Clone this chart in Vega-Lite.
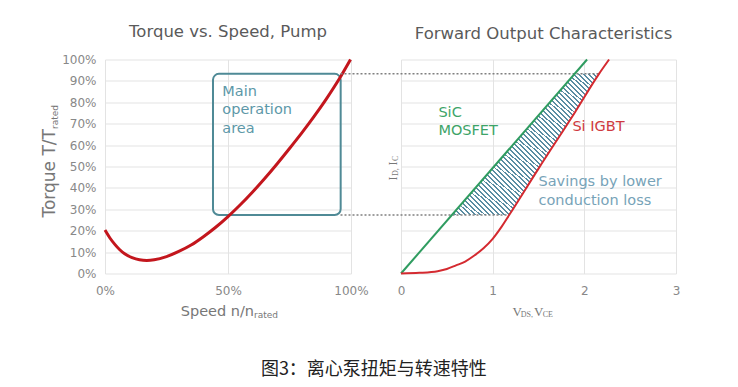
{
  "$schema": "https://vega.github.io/schema/vega-lite/v6.json",
  "background": "white",
  "padding": {"left": 41, "top": 23.5, "right": 5, "bottom": 5},
  "spacing": 50,
  "bounds": "flush",
  "config": {
    "view": {"stroke": null},
    "font": "DejaVu Sans",
    "axis": {"grid": true, "gridColor": "#e3e3e3", "gridWidth": 1, "domain": false, "ticks": false, "labelColor": "#888888", "labelFontSize": 12, "labelFont": "DejaVu Sans", "labelOverlap": false},
    "title": {"fontSize": 16.5, "fontWeight": "normal", "color": "#5a5a5a", "font": "DejaVu Sans", "offset": 13}
  },
  "hconcat": [
    {
      "width": 246,
      "height": 214,
      "title": {"text": "Torque vs. Speed, Pump"},
      "encoding": {
        "x": {"field": "x", "type": "quantitative", "title": null, "scale": {"domain": [0, 100], "nice": false, "zero": false}, "axis": {"values": [0, 50, 100], "labelExpr": "datum.value + '%'", "labelFlush": false, "labelPadding": 12}},
        "y": {"field": "y", "type": "quantitative", "title": null, "scale": {"domain": [0, 100], "nice": false}, "axis": {"values": [0, 10, 20, 30, 40, 50, 60, 70, 80, 90, 100], "labelExpr": "datum.value + '%'", "labelPadding": 9}}
      },
      "layer": [
        {
          "data": {"values": [{"x": 43.9, "x2": 95.8, "y": 27.3, "y2": 93.3}]},
          "mark": {"type": "rect", "filled": false, "color": "#4f8a96", "strokeWidth": 2, "cornerRadius": 6},
          "encoding": {"x2": {"field": "x2"}, "y2": {"field": "y2"}}
        },
        {
          "data": {"values": [
            {"x": 0, "y": 20.3}, {"x": 2, "y": 16.6}, {"x": 4, "y": 13.6}, {"x": 6, "y": 11.1}, {"x": 8, "y": 9.2},
            {"x": 11, "y": 7.4}, {"x": 14, "y": 6.4}, {"x": 17, "y": 6.1}, {"x": 20, "y": 6.4}, {"x": 25, "y": 7.9},
            {"x": 30, "y": 10.3}, {"x": 35, "y": 13.3}, {"x": 40, "y": 17.2}, {"x": 45, "y": 21.6}, {"x": 50, "y": 26.6},
            {"x": 55, "y": 32.1}, {"x": 60, "y": 38.1}, {"x": 65, "y": 44.5}, {"x": 70, "y": 51.3}, {"x": 75, "y": 58.4},
            {"x": 80, "y": 65.7}, {"x": 85, "y": 73.4}, {"x": 90, "y": 81.6}, {"x": 95, "y": 90.5}, {"x": 99.8, "y": 100}
          ]},
          "mark": {"type": "line", "color": "#c3161d", "strokeWidth": 3, "interpolate": "monotone"},
          "encoding": {}
        },
        {
          "data": {"values": [{"t": "Main", "x": 47.7, "y": 84.7}, {"t": "operation", "x": 47.7, "y": 76.2}, {"t": "area", "x": 47.7, "y": 67.3}]},
          "mark": {"type": "text", "align": "left", "baseline": "middle", "fontSize": 14.5, "color": "#5d98a8"},
          "encoding": {"text": {"field": "t"}}
        },
        {
          "data": {"values": [{"t": "Speed n/n", "x": 60.6, "y": -18.1}]},
          "mark": {"type": "text", "align": "right", "baseline": "middle", "fontSize": 14.5, "color": "#777777"},
          "encoding": {"text": {"field": "t"}}
        },
        {
          "data": {"values": [{"t": "rated", "x": 60.6, "y": -18.1}]},
          "mark": {"type": "text", "align": "left", "baseline": "middle", "fontSize": 9, "dy": 3, "color": "#777777"},
          "encoding": {"text": {"field": "t"}}
        },
        {
          "data": {"values": [{"t": "Torque T/T", "x": -22.2, "y": 67.5}]},
          "mark": {"type": "text", "align": "right", "baseline": "middle", "angle": 270, "fontSize": 17, "color": "#777777"},
          "encoding": {"text": {"field": "t"}}
        },
        {
          "data": {"values": [{"t": "rated", "x": -22.2, "y": 67.5}]},
          "mark": {"type": "text", "align": "left", "baseline": "middle", "angle": 270, "fontSize": 9, "dy": 5, "color": "#777777"},
          "encoding": {"text": {"field": "t"}}
        },
        {
          "data": {"values": [{"t": "图3：离心泵扭矩与转速特性", "x": 109.3, "y": -45.3}]},
          "mark": {"type": "text", "align": "center", "baseline": "middle", "fontSize": 18, "font": "Noto Sans CJK SC", "color": "#222222"},
          "encoding": {"text": {"field": "t"}}
        }
      ]
    },
    {
      "width": 275,
      "height": 214,
      "title": {"text": "Forward Output Characteristics", "dx": 5},
      "encoding": {
        "x": {"field": "x", "type": "quantitative", "title": null, "scale": {"domain": [0, 3], "nice": false, "zero": false}, "axis": {"values": [0, 1, 2, 3], "format": "d", "labelFlush": false, "labelPadding": 12}},
        "y": {"field": "y", "type": "quantitative", "title": null, "scale": {"domain": [0, 100], "nice": false}, "axis": {"values": [0, 10, 20, 30, 40, 50, 60, 70, 80, 90, 100], "labels": false}}
      },
      "layer": [
        {
          "data": {"values": [{"y": 27.3, "x": 0.554, "x2": 1.18}, {"y": 49, "x": 0.995, "x2": 1.5}, {"y": 75.5, "x": 1.533, "x2": 1.9}, {"y": 93.3, "x": 1.894, "x2": 2.16}]},
          "mark": {"type": "area", "orient": "horizontal", "fill": {"gradient": "linear", "x1": 0, "y1": 1, "x2": 1, "y2": 0, "stops": [
            {"offset": 0, "color": "#fff"}, {"offset": 0.01, "color": "#fff"}, {"offset": 0.01, "color": "#5a8da3"}, {"offset": 0.0167, "color": "#5a8da3"},
            {"offset": 0.0167, "color": "#fff"}, {"offset": 0.0267, "color": "#fff"}, {"offset": 0.0267, "color": "#5a8da3"}, {"offset": 0.0333, "color": "#5a8da3"},
            {"offset": 0.0333, "color": "#fff"}, {"offset": 0.0433, "color": "#fff"}, {"offset": 0.0433, "color": "#5a8da3"}, {"offset": 0.05, "color": "#5a8da3"},
            {"offset": 0.05, "color": "#fff"}, {"offset": 0.06, "color": "#fff"}, {"offset": 0.06, "color": "#5a8da3"}, {"offset": 0.0667, "color": "#5a8da3"},
            {"offset": 0.0667, "color": "#fff"}, {"offset": 0.0767, "color": "#fff"}, {"offset": 0.0767, "color": "#5a8da3"}, {"offset": 0.0833, "color": "#5a8da3"},
            {"offset": 0.0833, "color": "#fff"}, {"offset": 0.0933, "color": "#fff"}, {"offset": 0.0933, "color": "#5a8da3"}, {"offset": 0.1, "color": "#5a8da3"},
            {"offset": 0.1, "color": "#fff"}, {"offset": 0.11, "color": "#fff"}, {"offset": 0.11, "color": "#5a8da3"}, {"offset": 0.1167, "color": "#5a8da3"},
            {"offset": 0.1167, "color": "#fff"}, {"offset": 0.1267, "color": "#fff"}, {"offset": 0.1267, "color": "#5a8da3"}, {"offset": 0.1333, "color": "#5a8da3"},
            {"offset": 0.1333, "color": "#fff"}, {"offset": 0.1433, "color": "#fff"}, {"offset": 0.1433, "color": "#5a8da3"}, {"offset": 0.15, "color": "#5a8da3"},
            {"offset": 0.15, "color": "#fff"}, {"offset": 0.16, "color": "#fff"}, {"offset": 0.16, "color": "#5a8da3"}, {"offset": 0.1667, "color": "#5a8da3"},
            {"offset": 0.1667, "color": "#fff"}, {"offset": 0.1767, "color": "#fff"}, {"offset": 0.1767, "color": "#5a8da3"}, {"offset": 0.1833, "color": "#5a8da3"},
            {"offset": 0.1833, "color": "#fff"}, {"offset": 0.1933, "color": "#fff"}, {"offset": 0.1933, "color": "#5a8da3"}, {"offset": 0.2, "color": "#5a8da3"},
            {"offset": 0.2, "color": "#fff"}, {"offset": 0.21, "color": "#fff"}, {"offset": 0.21, "color": "#5a8da3"}, {"offset": 0.2167, "color": "#5a8da3"},
            {"offset": 0.2167, "color": "#fff"}, {"offset": 0.2267, "color": "#fff"}, {"offset": 0.2267, "color": "#5a8da3"}, {"offset": 0.2333, "color": "#5a8da3"},
            {"offset": 0.2333, "color": "#fff"}, {"offset": 0.2433, "color": "#fff"}, {"offset": 0.2433, "color": "#5a8da3"}, {"offset": 0.25, "color": "#5a8da3"},
            {"offset": 0.25, "color": "#fff"}, {"offset": 0.26, "color": "#fff"}, {"offset": 0.26, "color": "#5a8da3"}, {"offset": 0.2667, "color": "#5a8da3"},
            {"offset": 0.2667, "color": "#fff"}, {"offset": 0.2767, "color": "#fff"}, {"offset": 0.2767, "color": "#5a8da3"}, {"offset": 0.2833, "color": "#5a8da3"},
            {"offset": 0.2833, "color": "#fff"}, {"offset": 0.2933, "color": "#fff"}, {"offset": 0.2933, "color": "#5a8da3"}, {"offset": 0.3, "color": "#5a8da3"},
            {"offset": 0.3, "color": "#fff"}, {"offset": 0.31, "color": "#fff"}, {"offset": 0.31, "color": "#5a8da3"}, {"offset": 0.3167, "color": "#5a8da3"},
            {"offset": 0.3167, "color": "#fff"}, {"offset": 0.3267, "color": "#fff"}, {"offset": 0.3267, "color": "#5a8da3"}, {"offset": 0.3333, "color": "#5a8da3"},
            {"offset": 0.3333, "color": "#fff"}, {"offset": 0.3433, "color": "#fff"}, {"offset": 0.3433, "color": "#5a8da3"}, {"offset": 0.35, "color": "#5a8da3"},
            {"offset": 0.35, "color": "#fff"}, {"offset": 0.36, "color": "#fff"}, {"offset": 0.36, "color": "#5a8da3"}, {"offset": 0.3667, "color": "#5a8da3"},
            {"offset": 0.3667, "color": "#fff"}, {"offset": 0.3767, "color": "#fff"}, {"offset": 0.3767, "color": "#5a8da3"}, {"offset": 0.3833, "color": "#5a8da3"},
            {"offset": 0.3833, "color": "#fff"}, {"offset": 0.3933, "color": "#fff"}, {"offset": 0.3933, "color": "#5a8da3"}, {"offset": 0.4, "color": "#5a8da3"},
            {"offset": 0.4, "color": "#fff"}, {"offset": 0.41, "color": "#fff"}, {"offset": 0.41, "color": "#5a8da3"}, {"offset": 0.4167, "color": "#5a8da3"},
            {"offset": 0.4167, "color": "#fff"}, {"offset": 0.4267, "color": "#fff"}, {"offset": 0.4267, "color": "#5a8da3"}, {"offset": 0.4333, "color": "#5a8da3"},
            {"offset": 0.4333, "color": "#fff"}, {"offset": 0.4433, "color": "#fff"}, {"offset": 0.4433, "color": "#5a8da3"}, {"offset": 0.45, "color": "#5a8da3"},
            {"offset": 0.45, "color": "#fff"}, {"offset": 0.46, "color": "#fff"}, {"offset": 0.46, "color": "#5a8da3"}, {"offset": 0.4667, "color": "#5a8da3"},
            {"offset": 0.4667, "color": "#fff"}, {"offset": 0.4767, "color": "#fff"}, {"offset": 0.4767, "color": "#5a8da3"}, {"offset": 0.4833, "color": "#5a8da3"},
            {"offset": 0.4833, "color": "#fff"}, {"offset": 0.4933, "color": "#fff"}, {"offset": 0.4933, "color": "#5a8da3"}, {"offset": 0.5, "color": "#5a8da3"},
            {"offset": 0.5, "color": "#fff"}, {"offset": 0.51, "color": "#fff"}, {"offset": 0.51, "color": "#5a8da3"}, {"offset": 0.5167, "color": "#5a8da3"},
            {"offset": 0.5167, "color": "#fff"}, {"offset": 0.5267, "color": "#fff"}, {"offset": 0.5267, "color": "#5a8da3"}, {"offset": 0.5333, "color": "#5a8da3"},
            {"offset": 0.5333, "color": "#fff"}, {"offset": 0.5433, "color": "#fff"}, {"offset": 0.5433, "color": "#5a8da3"}, {"offset": 0.55, "color": "#5a8da3"},
            {"offset": 0.55, "color": "#fff"}, {"offset": 0.56, "color": "#fff"}, {"offset": 0.56, "color": "#5a8da3"}, {"offset": 0.5667, "color": "#5a8da3"},
            {"offset": 0.5667, "color": "#fff"}, {"offset": 0.5767, "color": "#fff"}, {"offset": 0.5767, "color": "#5a8da3"}, {"offset": 0.5833, "color": "#5a8da3"},
            {"offset": 0.5833, "color": "#fff"}, {"offset": 0.5933, "color": "#fff"}, {"offset": 0.5933, "color": "#5a8da3"}, {"offset": 0.6, "color": "#5a8da3"},
            {"offset": 0.6, "color": "#fff"}, {"offset": 0.61, "color": "#fff"}, {"offset": 0.61, "color": "#5a8da3"}, {"offset": 0.6167, "color": "#5a8da3"},
            {"offset": 0.6167, "color": "#fff"}, {"offset": 0.6267, "color": "#fff"}, {"offset": 0.6267, "color": "#5a8da3"}, {"offset": 0.6333, "color": "#5a8da3"},
            {"offset": 0.6333, "color": "#fff"}, {"offset": 0.6433, "color": "#fff"}, {"offset": 0.6433, "color": "#5a8da3"}, {"offset": 0.65, "color": "#5a8da3"},
            {"offset": 0.65, "color": "#fff"}, {"offset": 0.66, "color": "#fff"}, {"offset": 0.66, "color": "#5a8da3"}, {"offset": 0.6667, "color": "#5a8da3"},
            {"offset": 0.6667, "color": "#fff"}, {"offset": 0.6767, "color": "#fff"}, {"offset": 0.6767, "color": "#5a8da3"}, {"offset": 0.6833, "color": "#5a8da3"},
            {"offset": 0.6833, "color": "#fff"}, {"offset": 0.6933, "color": "#fff"}, {"offset": 0.6933, "color": "#5a8da3"}, {"offset": 0.7, "color": "#5a8da3"},
            {"offset": 0.7, "color": "#fff"}, {"offset": 0.71, "color": "#fff"}, {"offset": 0.71, "color": "#5a8da3"}, {"offset": 0.7167, "color": "#5a8da3"},
            {"offset": 0.7167, "color": "#fff"}, {"offset": 0.7267, "color": "#fff"}, {"offset": 0.7267, "color": "#5a8da3"}, {"offset": 0.7333, "color": "#5a8da3"},
            {"offset": 0.7333, "color": "#fff"}, {"offset": 0.7433, "color": "#fff"}, {"offset": 0.7433, "color": "#5a8da3"}, {"offset": 0.75, "color": "#5a8da3"},
            {"offset": 0.75, "color": "#fff"}, {"offset": 0.76, "color": "#fff"}, {"offset": 0.76, "color": "#5a8da3"}, {"offset": 0.7667, "color": "#5a8da3"},
            {"offset": 0.7667, "color": "#fff"}, {"offset": 0.7767, "color": "#fff"}, {"offset": 0.7767, "color": "#5a8da3"}, {"offset": 0.7833, "color": "#5a8da3"},
            {"offset": 0.7833, "color": "#fff"}, {"offset": 0.7933, "color": "#fff"}, {"offset": 0.7933, "color": "#5a8da3"}, {"offset": 0.8, "color": "#5a8da3"},
            {"offset": 0.8, "color": "#fff"}, {"offset": 0.81, "color": "#fff"}, {"offset": 0.81, "color": "#5a8da3"}, {"offset": 0.8167, "color": "#5a8da3"},
            {"offset": 0.8167, "color": "#fff"}, {"offset": 0.8267, "color": "#fff"}, {"offset": 0.8267, "color": "#5a8da3"}, {"offset": 0.8333, "color": "#5a8da3"},
            {"offset": 0.8333, "color": "#fff"}, {"offset": 0.8433, "color": "#fff"}, {"offset": 0.8433, "color": "#5a8da3"}, {"offset": 0.85, "color": "#5a8da3"},
            {"offset": 0.85, "color": "#fff"}, {"offset": 0.86, "color": "#fff"}, {"offset": 0.86, "color": "#5a8da3"}, {"offset": 0.8667, "color": "#5a8da3"},
            {"offset": 0.8667, "color": "#fff"}, {"offset": 0.8767, "color": "#fff"}, {"offset": 0.8767, "color": "#5a8da3"}, {"offset": 0.8833, "color": "#5a8da3"},
            {"offset": 0.8833, "color": "#fff"}, {"offset": 0.8933, "color": "#fff"}, {"offset": 0.8933, "color": "#5a8da3"}, {"offset": 0.9, "color": "#5a8da3"},
            {"offset": 0.9, "color": "#fff"}, {"offset": 0.91, "color": "#fff"}, {"offset": 0.91, "color": "#5a8da3"}, {"offset": 0.9167, "color": "#5a8da3"},
            {"offset": 0.9167, "color": "#fff"}, {"offset": 0.9267, "color": "#fff"}, {"offset": 0.9267, "color": "#5a8da3"}, {"offset": 0.9333, "color": "#5a8da3"},
            {"offset": 0.9333, "color": "#fff"}, {"offset": 0.9433, "color": "#fff"}, {"offset": 0.9433, "color": "#5a8da3"}, {"offset": 0.95, "color": "#5a8da3"},
            {"offset": 0.95, "color": "#fff"}, {"offset": 0.96, "color": "#fff"}, {"offset": 0.96, "color": "#5a8da3"}, {"offset": 0.9667, "color": "#5a8da3"},
            {"offset": 0.9667, "color": "#fff"}, {"offset": 0.9767, "color": "#fff"}, {"offset": 0.9767, "color": "#5a8da3"}, {"offset": 0.9833, "color": "#5a8da3"},
            {"offset": 0.9833, "color": "#fff"}, {"offset": 0.9933, "color": "#fff"}, {"offset": 0.9933, "color": "#5a8da3"}, {"offset": 1, "color": "#5a8da3"}
          ]}},
          "encoding": {"x2": {"field": "x2"}}
        },
        {
          "data": {"values": [{"x": -0.66, "x2": 2.16, "y": 93.3}, {"x": -0.66, "x2": 1.18, "y": 27.3}]},
          "mark": {"type": "rule", "color": "#808080", "strokeWidth": 1.5, "strokeDash": [2, 2]},
          "encoding": {"x2": {"field": "x2"}}
        },
        {
          "data": {"values": [{"x": 0, "y": 0}, {"x": 2.03, "y": 100}]},
          "mark": {"type": "line", "color": "#2f9c60", "strokeWidth": 2},
          "encoding": {}
        },
        {
          "data": {"values": [
            {"x": 0, "y": 0}, {"x": 0.2, "y": 0.3}, {"x": 0.4, "y": 1.1}, {"x": 0.5, "y": 2.1}, {"x": 0.6, "y": 3.8},
            {"x": 0.7, "y": 5.6}, {"x": 0.8, "y": 8.4}, {"x": 0.9, "y": 11.8}, {"x": 1.0, "y": 16.2}, {"x": 1.1, "y": 22},
            {"x": 1.18, "y": 27.3}, {"x": 1.5, "y": 49}, {"x": 1.9, "y": 75.5}, {"x": 2.16, "y": 93.3}, {"x": 2.27, "y": 100}
          ]},
          "mark": {"type": "line", "color": "#d42a30", "strokeWidth": 2, "interpolate": "monotone"},
          "encoding": {}
        },
        {
          "data": {"values": [{"t": "SiC", "x": 0.408, "y": 74.8}, {"t": "MOSFET", "x": 0.408, "y": 66.4}]},
          "mark": {"type": "text", "align": "left", "baseline": "middle", "fontSize": 14.5, "color": "#3da468"},
          "encoding": {"text": {"field": "t"}}
        },
        {
          "data": {"values": [{"t": "Si IGBT", "x": 1.87, "y": 68.4}]},
          "mark": {"type": "text", "align": "left", "baseline": "middle", "fontSize": 14.5, "color": "#cf3a40"},
          "encoding": {"text": {"field": "t"}}
        },
        {
          "data": {"values": [{"t": "Savings by lower", "x": 1.5, "y": 42.7}, {"t": "conduction loss", "x": 1.5, "y": 34.1}]},
          "mark": {"type": "text", "align": "left", "baseline": "middle", "fontSize": 14.5, "color": "#77a3b8"},
          "encoding": {"text": {"field": "t"}}
        },
        {
          "data": {"values": [{"t": "V", "x": 1.215, "y": -18.1}, {"t": "V", "x": 1.451, "y": -18.1}]},
          "mark": {"type": "text", "align": "left", "baseline": "middle", "fontSize": 13, "font": "Liberation Serif", "color": "#777777"},
          "encoding": {"text": {"field": "t"}}
        },
        {
          "data": {"values": [{"t": "DS,", "x": 1.306, "y": -18.1}, {"t": "CE", "x": 1.546, "y": -18.1}]},
          "mark": {"type": "text", "align": "left", "baseline": "middle", "fontSize": 8, "dy": 3, "font": "Liberation Serif", "color": "#777777"},
          "encoding": {"text": {"field": "t"}}
        },
        {
          "data": {"values": [{"t": "I", "x": -0.087, "y": 43.5}, {"t": "I", "x": -0.087, "y": 50.5}]},
          "mark": {"type": "text", "align": "left", "baseline": "middle", "angle": 270, "fontSize": 12, "font": "Liberation Serif", "color": "#777777"},
          "encoding": {"text": {"field": "t"}}
        },
        {
          "data": {"values": [{"t": "D,", "x": -0.087, "y": 45.6}, {"t": "C", "x": -0.087, "y": 52.6}]},
          "mark": {"type": "text", "align": "left", "baseline": "middle", "angle": 270, "fontSize": 8, "dy": 3, "font": "Liberation Serif", "color": "#777777"},
          "encoding": {"text": {"field": "t"}}
        }
      ]
    }
  ]
}
